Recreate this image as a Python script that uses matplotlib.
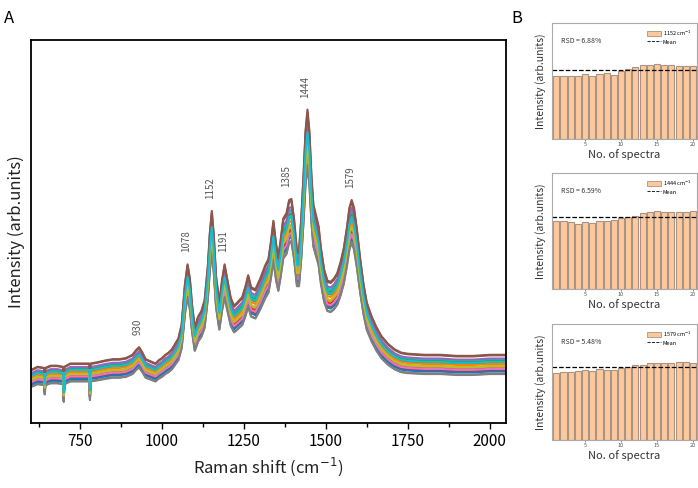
import numpy as np
import matplotlib.pyplot as plt
from matplotlib.patches import Patch
from matplotlib.lines import Line2D

plt.rcParams['font.family'] = ['Noto Sans CJK SC', 'DejaVu Sans']
plt.rcParams['mathtext.fontset'] = 'dejavusans'

# base Raman spectrum (arb. units)
shift = [600, 620, 640, 642, 644, 660, 680, 698, 700, 702, 720, 750, 778, 780, 782,
         800, 830, 850, 870, 890, 910, 920, 930, 940, 950, 965, 980, 990, 1000,
         1010, 1020, 1030, 1040, 1050, 1060, 1070, 1078, 1085, 1092, 1100, 1110,
         1120, 1130, 1140, 1146, 1152, 1158, 1165, 1175, 1183, 1191, 1200, 1210,
         1220, 1230, 1245, 1255, 1263, 1272, 1285, 1300, 1315, 1325, 1333, 1340,
         1348, 1355, 1362, 1370, 1380, 1388, 1395, 1403, 1412, 1418, 1425, 1432,
         1438, 1444, 1450, 1456, 1462, 1470, 1478, 1485, 1495, 1505, 1515, 1525,
         1535, 1545, 1555, 1565, 1572, 1579, 1586, 1595, 1605, 1615, 1625, 1640,
         1655, 1670, 1690, 1710, 1730, 1750, 1800, 1850, 1900, 1950, 2000, 2050]
base = [44, 47, 46, 36, 46, 48, 48, 47, 28, 47, 50, 50, 50, 30, 50,
        51, 53, 54, 54, 55, 58, 62, 65, 60, 54, 52, 50, 53, 55,
        58, 60, 63, 68, 73, 86, 123, 141, 128, 103, 83, 93,
        98, 108, 140, 170, 190, 168, 130, 106, 126, 141, 126, 110,
        103, 106, 111, 121, 131, 120, 118, 128, 140, 146, 163, 181,
        160, 148, 163, 183, 188, 200, 201, 183, 153, 153, 183, 223,
        263, 283, 263, 223, 196, 186, 176, 156, 136, 126, 125, 128,
        133, 143, 156, 176, 193, 200, 193, 173, 146, 123, 106, 93,
        83, 75, 68, 63, 60, 59, 58, 58, 57, 57, 58, 58]

# per-spectrum scale factors and offsets (20 spectra)
scales = [0.95, 0.97, 1.02, 0.96, 1.05, 1.09, 0.99, 0.92, 0.98, 1.04,
          0.94, 1.00, 1.03, 0.97, 1.06, 1.08, 0.95, 0.93, 0.98, 1.02]
offsets = [-2, 0, 1, -3, 2, 5, -1, -4, 0, 3,
           -3, 1, 2, -2, 3, 5, -1, -5, 0, 2]

peaks = [930, 1078, 1152, 1191, 1385, 1444, 1579]

# bar data for panel B
spectra_no = list(range(1, 21))
i1152 = [189, 189, 188, 189, 194, 190, 195, 198, 193, 205,
         209, 216, 223, 223, 225, 222, 222, 219, 219, 219]
i1444 = [204, 204, 201, 196, 201, 198, 203, 205, 207, 213,
         215, 219, 229, 230, 235, 231, 231, 231, 231, 233]
i1579 = [200, 203, 203, 206, 209, 206, 212, 209, 209, 215,
         219, 226, 226, 230, 232, 232, 230, 233, 233, 232]
bar_sets = [(i1152, '1152', 'RSD = 6.88%'),
            (i1444, '1444', 'RSD = 6.59%'),
            (i1579, '1579', 'RSD = 5.48%')]

fig = plt.figure(figsize=(6.98, 4.88), dpi=100)

# ---- panel A
ax = fig.add_axes([0.0444, 0.1332, 0.6805, 0.7848])
x = np.array(shift)
y0 = np.array(base)
all_y = []
for k, off in zip(scales, offsets):
    y = y0 * k + off
    all_y.append(y)
    ax.plot(x, y, lw=1.5)
all_y = np.array(all_y)

for p in peaks:
    i = np.argmin(np.abs(x - p))
    top = all_y[:, max(i - 1, 0):i + 2].max()
    ax.text(p - 6, top + 12, str(p), rotation=90, ha='center', va='bottom',
            fontsize=7, color='#555555')

ax.set_xlim(600, 2050)
ax.set_ylim(0, 383)
ax.set_xticks([750, 1000, 1250, 1500, 1750, 2000])
ax.set_xticks(np.arange(625, 2050, 125), minor=True)
ax.set_yticks([])
ax.tick_params(axis='x', which='both', direction='out', labelsize=11, width=1)
ax.tick_params(axis='x', which='major', length=4)
ax.tick_params(axis='x', which='minor', length=3)
for s in ax.spines.values():
    s.set_linewidth(1.3)
ax.set_xlabel('Raman shift (cm$^{-1}$)', fontsize=12, color='#222222')
ax.set_ylabel('Intensity (arb.units)', fontsize=12, color='#222222')
fig.text(0.006, 0.962, 'A', fontsize=12, va='center')
fig.text(0.733, 0.962, 'B', fontsize=12, va='center')

# ---- panel B
bottoms = [0.7152, 0.4078, 0.0984]
for (vals, lab, rsd), b in zip(bar_sets, bottoms):
    bx = fig.add_axes([0.7908, b, 0.2077, 0.2377])
    bx.bar(spectra_no, vals, width=0.85, color='#FDC99C', edgecolor='#A89484', lw=0.8)
    m = np.mean(vals)
    bx.axhline(m, color='black', ls='--', lw=0.9)
    bx.set_xlim(0.4, 20.55)
    bx.set_ylim(0, 348)
    bx.set_yticks([])
    bx.set_xticks([5, 10, 15, 20])
    bx.tick_params(axis='x', labelsize=4, length=1.5, width=0.5, pad=1,
                   colors='#555555')
    for s in bx.spines.values():
        s.set_color('#AAAAAA')
        s.set_linewidth(0.8)
    bx.text(0.06, 0.83, rsd, transform=bx.transAxes, fontsize=5, color='#333333')
    handles = [Patch(facecolor='#FDC99C', edgecolor='#A89484', lw=0.6),
               Line2D([], [], color='black', ls='--', lw=0.6)]
    bx.legend(handles, [lab + r'$\,$cm$^{-1}$', 'Mean'], loc='upper right', fontsize=4,
              frameon=False, handlelength=2.4, handleheight=1.1,
              borderaxespad=0.6, labelspacing=0.2, handletextpad=0.4)
    bx.set_ylabel('Intensity (arb.units)', fontsize=7.5, color='#333333', labelpad=4)
    bx.set_xlabel('No. of spectra', fontsize=8, color='#333333', labelpad=1)

fig.savefig('out.png', dpi=100)
